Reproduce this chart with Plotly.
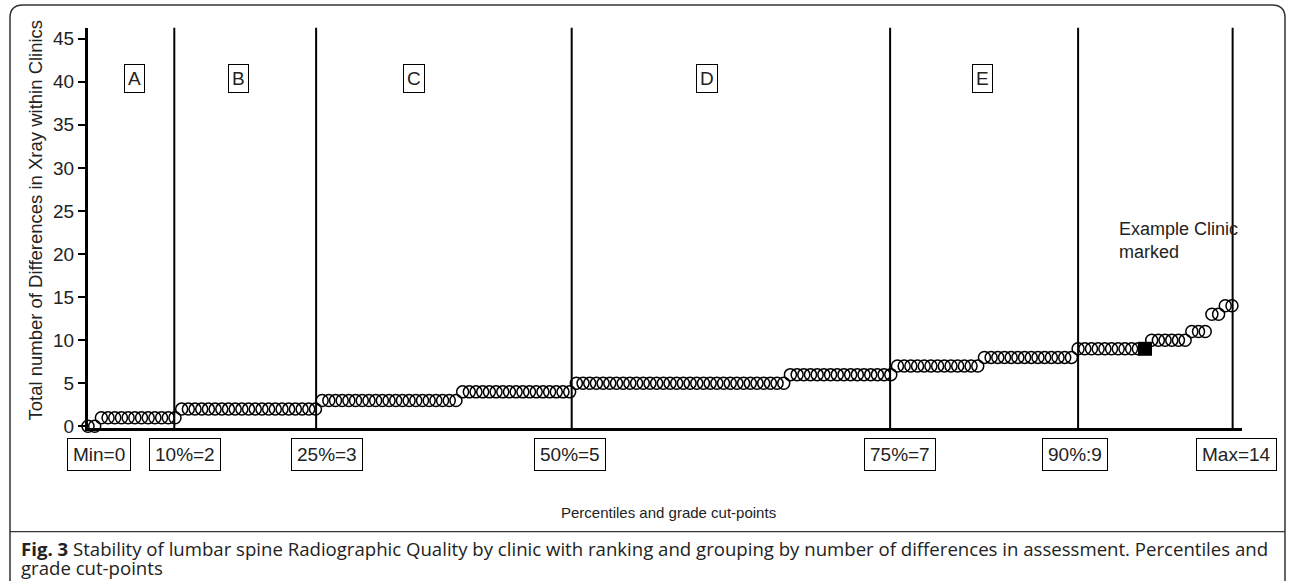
import plotly.graph_objects as go

W, H = 1292, 584

# ---- data ----
diff_values = [0, 1, 2, 3, 4, 5, 6, 7, 8, 9, 10, 11, 13, 14]
clinic_counts = [2, 12, 21, 21, 17, 32, 16, 13, 14, 11, 6, 3, 2, 2]
example_rank = 159
cut_labels = ["Min=0", "10%=2", "25%=3", "50%=5", "75%=7", "90%:9", "Max=14"]
cut_ranks = [1, 13.9, 35.1, 73.3, 120.9, 149, 172.1]
grades = ["A", "B", "C", "D", "E"]
y_ticks = [0, 5, 10, 15, 20, 25, 30, 35, 40, 45]

differences = []
for v, c in zip(diff_values, clinic_counts):
    differences += [v] * c
ranks = list(range(1, len(differences) + 1))

circ_x = [r for r in ranks if r != example_rank]
circ_y = [d for r, d in zip(ranks, differences) if r != example_rank]
ex_y = differences[example_rank - 1]

# ---- layout helpers (pixel -> paper) ----
def px(x):
    return x / W

def py(y):
    return 1 - y / H

FONT = "Liberation Sans, Arial, sans-serif"
TXT = "#222222"
Y_RANGE = [-0.23, 46.29]

fig = go.Figure()
fig.add_trace(go.Scatter(
    x=circ_x, y=circ_y, mode="markers", cliponaxis=False,
    marker=dict(symbol="circle-open", size=12, color="black",
                line=dict(width=1.5, color="black")),
    showlegend=False, hoverinfo="x+y"))
fig.add_trace(go.Scatter(
    x=[example_rank], y=[ex_y], mode="markers", cliponaxis=False,
    marker=dict(symbol="square", size=14, color="black"),
    showlegend=False))

shapes = []
for r in cut_ranks[1:]:
    shapes.append(dict(type="line", xref="x", yref="y", x0=r, x1=r,
                       y0=Y_RANGE[0], y1=Y_RANGE[1],
                       line=dict(color="black", width=2)))

# outer rounded frame
L, T, R, B = 10, 5, 1285, 590
rad = 13
path = (f"M {px(L)},{py(B)} L {px(L)},{py(T+rad)} Q {px(L)},{py(T)} {px(L+rad)},{py(T)} "
        f"L {px(R-rad)},{py(T)} Q {px(R)},{py(T)} {px(R)},{py(T+rad)} L {px(R)},{py(B)}")
shapes.append(dict(type="path", xref="paper", yref="paper", path=path,
                   line=dict(color="#333333", width=1.5)))
shapes.append(dict(type="line", xref="paper", yref="paper", x0=px(L), x1=px(R),
                   y0=py(540), y1=py(540), line=dict(color="#333333", width=1.2)))

annotations = []
# grade boxes
grade_px = [134, 238, 414, 707, 982]
for g, gx in zip(grades, grade_px):
    annotations.append(dict(text=g, x=px(gx), y=py(80), xref="paper", yref="paper",
                            showarrow=False, xanchor="center", yanchor="middle",
                            font=dict(family=FONT, size=19, color=TXT),
                            bordercolor="black", borderwidth=1, borderpad=3))
# cut-point boxes
cut_px = [99, 185, 327, 570, 900, 1075, 1236]
for lab, cx in zip(cut_labels, cut_px):
    annotations.append(dict(text=lab, x=px(cx), y=py(462), xref="paper", yref="paper",
                            showarrow=False, xanchor="center", yanchor="middle",
                            font=dict(family=FONT, size=19, color=TXT),
                            bordercolor="black", borderwidth=1, borderpad=5))
annotations.append(dict(text="Percentiles and grade cut-points", x=px(668), y=py(521),
                        xref="paper", yref="paper", showarrow=False,
                        xanchor="center", yanchor="middle",
                        font=dict(family=FONT, size=15, color=TXT)))
annotations.append(dict(text="Example Clinic<br>marked", x=px(1117), y=py(244),
                        xref="paper", yref="paper", showarrow=False, align="left",
                        xanchor="left", yanchor="middle",
                        font=dict(family=FONT, size=18, color=TXT)))
annotations.append(dict(text="Total number of Differences in Xray within Clinics",
                        x=px(36), y=py(224), xref="paper", yref="paper", textangle=-90,
                        showarrow=False, xanchor="center", yanchor="middle",
                        font=dict(family=FONT, size=18.5, color=TXT)))
annotations.append(dict(text="<b>Fig. 3</b> Stability of lumbar spine Radiographic Quality by clinic with ranking and grouping by number of differences in assessment. Percentiles and",
                        x=px(19), y=py(557), xref="paper", yref="paper", showarrow=False,
                        xanchor="left", yanchor="middle", align="left",
                        font=dict(family="Open Sans, sans-serif", size=18.6, color=TXT)))
annotations.append(dict(text="grade cut-points",
                        x=px(19), y=py(576), xref="paper", yref="paper", showarrow=False,
                        xanchor="left", yanchor="middle", align="left",
                        font=dict(family="Open Sans, sans-serif", size=18.6, color=TXT)))

fig.update_layout(
    width=W, height=H, margin=dict(l=0, r=0, t=0, b=0),
    paper_bgcolor="white", plot_bgcolor="white",
    shapes=shapes, annotations=annotations,
    xaxis=dict(domain=[px(88), px(1242)], range=[1, 173.5], showline=True,
               linecolor="black", linewidth=3, showticklabels=False, ticks="",
               showgrid=False, zeroline=False),
    yaxis=dict(domain=[py(435), py(28)], range=Y_RANGE, showline=True,
               linecolor="black", linewidth=3, ticks="outside", ticklen=7,
               tickwidth=1.5, tickcolor="black", tickvals=y_ticks,
               tickfont=dict(family=FONT, size=19, color=TXT),
               showgrid=False, zeroline=False),
)

fig.write_html("out.html", config={"displayModeBar": False},
               post_script="document.body.style.margin='0';document.body.style.overflow='hidden';")
